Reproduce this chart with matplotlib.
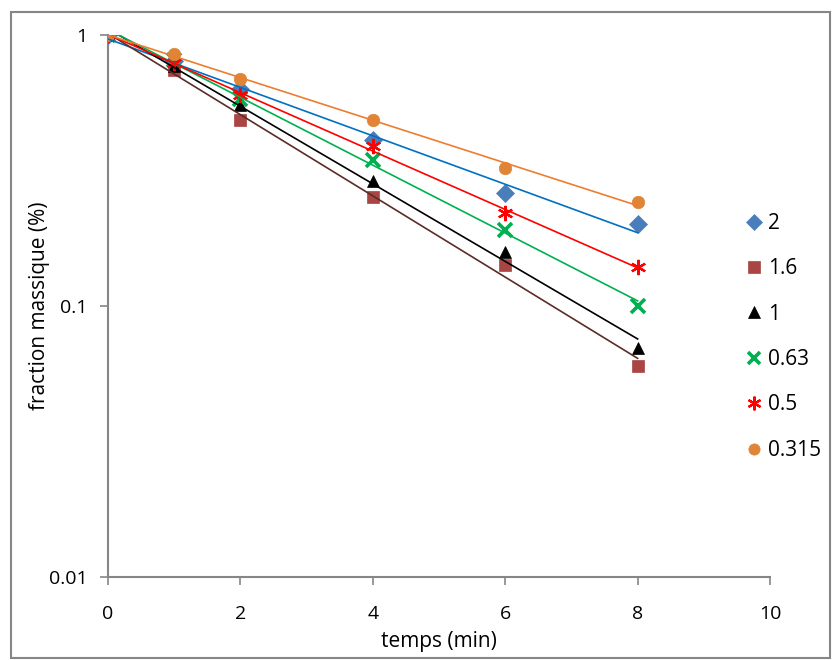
import numpy as np
import matplotlib
matplotlib.use("Agg")
import matplotlib.pyplot as plt
from matplotlib.patches import Rectangle
from matplotlib.lines import Line2D

plt.rcParams['font.family'] = ['Open Sans', 'DejaVu Sans']

# temps (min)
t = [0, 1, 2, 4, 6, 8]

# fraction massique par classe granulométrique
labels = ['2', '1.6', '1', '0.63', '0.5', '0.315']
f_2 = [1.0, 0.80, 0.63, 0.41, 0.261, 0.201]
f_16 = [1.0, 0.74, 0.485, 0.252, 0.142, 0.060]
f_1 = [1.0, 0.77, 0.55, 0.29, 0.158, 0.070]
f_063 = [1.0, 0.81, 0.58, 0.346, 0.191, 0.100]
f_05 = [1.0, 0.79, 0.60, 0.39, 0.22, 0.139]
f_0315 = [1.0, 0.85, 0.69, 0.485, 0.323, 0.242]
series = [f_2, f_16, f_1, f_063, f_05, f_0315]

markers = ['D', 's', '^', 'x', (6, 2, 0), 'o']
mcolors = ['#4A7EBB', '#A94543', '#000000', '#00B050', '#FF0000', '#DE8538']
msizes = [9, 9, 9, 10, 11, 9]
mews = [0.5, 0.5, 0.5, 2.6, 1.6, 0.5]
lcolors = ['#0070C0', '#5A2D27', '#000000', '#00B050', '#FF0000', '#ED7D31']

fig = plt.figure(figsize=(8.33, 6.6), dpi=100)
ax = fig.add_axes([0.1297, 0.1258, 0.7947, 0.8212])

handles = []
for y, lab, m, mc, ms, mw, lc in zip(series, labels, markers, mcolors, msizes, mews, lcolors):
    h, = ax.plot(t, y, linestyle='none', marker=m, color=mc, markersize=ms,
                 markeredgewidth=mw, zorder=3, label=lab)
    handles.append(h)
    # tendance exponentielle
    b, a = np.polyfit(t, np.log(y), 1)
    xs = np.linspace(0, 8, 50)
    ax.plot(xs, np.exp(a + b * xs), color=lc, linewidth=1.2, zorder=4)

ax.set_yscale('log')
ax.set_xlim(0, 10)
ax.set_ylim(0.01, 1)
ax.set_xticks([0, 2, 4, 6, 8, 10])
ax.set_yticks([0.01, 0.1, 1])
ax.set_yticklabels(['0.01', '0.1', '1'])
ax.yaxis.set_minor_locator(matplotlib.ticker.NullLocator())

for s in ['top', 'right']:
    ax.spines[s].set_visible(False)
for s in ['left', 'bottom']:
    ax.spines[s].set_color('#868686')
    ax.spines[s].set_linewidth(1.5)
ax.tick_params(axis='both', colors='#868686', labelcolor='#000000', labelsize=14,
               length=6, width=1.2, direction='out')
ax.tick_params(axis='x', pad=14)
ax.tick_params(axis='y', pad=9)

ax.set_xlabel('temps (min)', fontsize=15, labelpad=6)
ax.set_ylabel('fraction massique (%)', fontsize=15)
ax.yaxis.set_label_coords(-0.088, 0.5)

leg_handles = [Line2D([], [], linestyle='none', marker=h.get_marker(), color=h.get_color(),
                      markersize=h.get_markersize() * 0.9,
                      markeredgewidth=h.get_markeredgewidth()) for h in handles]
fig.legend(leg_handles, labels, loc='upper left', bbox_to_anchor=(0.885, 0.69),
           frameon=False, fontsize=15, handlelength=0.8, handletextpad=0.3,
           labelspacing=1.17, borderaxespad=0)

fig.patches.append(Rectangle((0.0132, 0.003), 0.983, 0.979, transform=fig.transFigure,
                             fill=False, edgecolor='#868686', linewidth=1.5))

fig.savefig('out.png', dpi=100)
